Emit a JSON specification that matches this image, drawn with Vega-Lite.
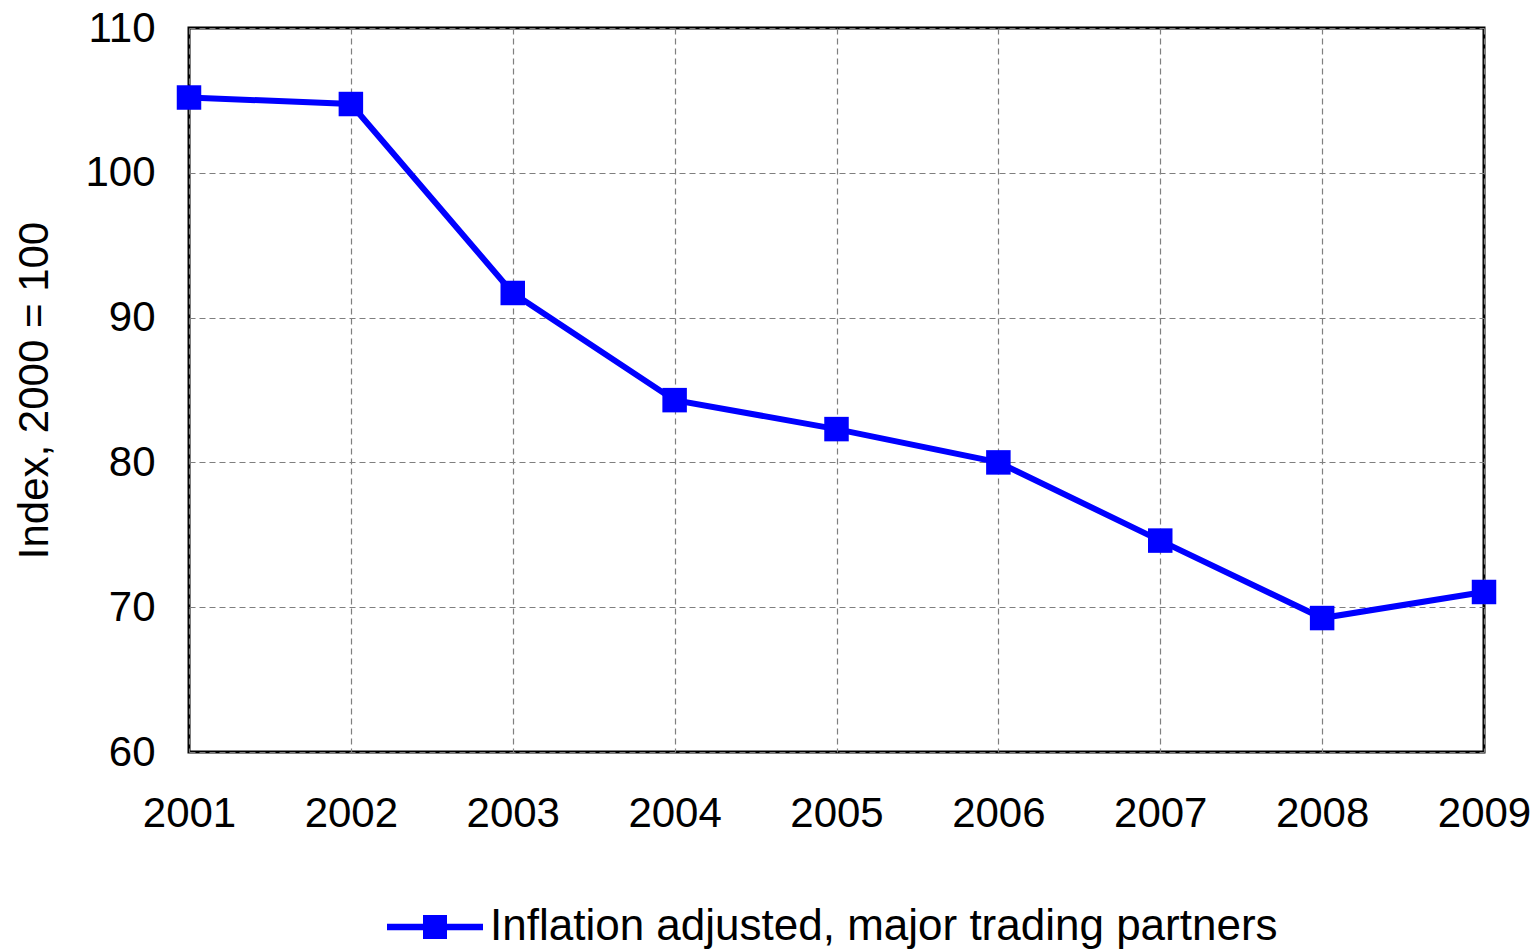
{
  "$schema": "https://vega.github.io/schema/vega-lite/v6.json",
  "width": 1295,
  "height": 724,
  "autosize": {"type": "none"},
  "padding": {"left": 189, "top": 28, "right": 53, "bottom": 198},
  "background": "white",
  "config": {
    "font": "Liberation Sans",
    "view": {"stroke": "black", "strokeWidth": 3},
    "axis": {
      "labelFont": "Liberation Sans",
      "titleFont": "Liberation Sans",
      "labelFontSize": 42,
      "titleFontSize": 42,
      "labelColor": "black",
      "titleColor": "black",
      "titleFontWeight": "normal",
      "domain": false,
      "ticks": false,
      "gridColor": "#7f7f7f",
      "gridDash": [6, 4],
      "gridWidth": 1.2,
      "gridOpacity": 1
    }
  },
  "data": {
    "values": [
      {"year": 2001, "value": 105.2, "series": "Inflation adjusted, major trading partners"},
      {"year": 2002, "value": 104.75, "series": "Inflation adjusted, major trading partners"},
      {"year": 2003, "value": 91.7, "series": "Inflation adjusted, major trading partners"},
      {"year": 2004, "value": 84.3, "series": "Inflation adjusted, major trading partners"},
      {"year": 2005, "value": 82.3, "series": "Inflation adjusted, major trading partners"},
      {"year": 2006, "value": 80.0, "series": "Inflation adjusted, major trading partners"},
      {"year": 2007, "value": 74.6, "series": "Inflation adjusted, major trading partners"},
      {"year": 2008, "value": 69.25, "series": "Inflation adjusted, major trading partners"},
      {"year": 2009, "value": 71.05, "series": "Inflation adjusted, major trading partners"}
    ]
  },
  "mark": {
    "type": "line",
    "strokeWidth": 6,
    "point": {"filled": true, "shape": "square", "size": 600, "color": "#0000FF", "opacity": 1}
  },
  "encoding": {
    "x": {
      "field": "year",
      "type": "quantitative",
      "scale": {"domain": [2001, 2009], "nice": false, "zero": false},
      "axis": {
        "title": null,
        "format": "d",
        "values": [2001, 2002, 2003, 2004, 2005, 2006, 2007, 2008, 2009],
        "labelPadding": 41,
        "labelFlush": false,
        "labelOverlap": false
      }
    },
    "y": {
      "field": "value",
      "type": "quantitative",
      "scale": {"domain": [60, 110], "nice": false, "zero": false},
      "axis": {
        "title": "Index, 2000 = 100",
        "values": [60, 70, 80, 90, 100, 110],
        "labelPadding": 34,
        "titlePadding": 28
      }
    },
    "color": {
      "field": "series",
      "type": "nominal",
      "scale": {"range": ["#0000FF"]},
      "legend": {
        "title": null,
        "orient": "none",
        "legendX": 198,
        "legendY": 851,
        "direction": "horizontal",
        "labelFontSize": 44,
        "labelFont": "Liberation Sans",
        "labelColor": "black",
        "labelLimit": 1000,
        "symbolType": "M-1,-0.07L1,-0.07L1,0.07L-1,0.07Z M-0.25,-0.25L0.25,-0.25L0.25,0.25L-0.25,0.25Z",
        "symbolSize": 9216,
        "symbolFillColor": "#0000FF",
        "symbolStrokeWidth": 0,
        "symbolOpacity": 1,
        "labelOffset": 7,
        "encode": {
          "symbols": {"update": {
            "shape": {"value": "M-1,-0.07L1,-0.07L1,0.07L-1,0.07Z M-0.25,-0.25L0.25,-0.25L0.25,0.25L-0.25,0.25Z"},
            "size": {"value": 9216},
            "fill": {"value": "#0000FF"},
            "stroke": {"value": "#0000FF"},
            "strokeWidth": {"value": 0},
            "opacity": {"value": 1}
          }}
        }
      }
    }
  }
}
